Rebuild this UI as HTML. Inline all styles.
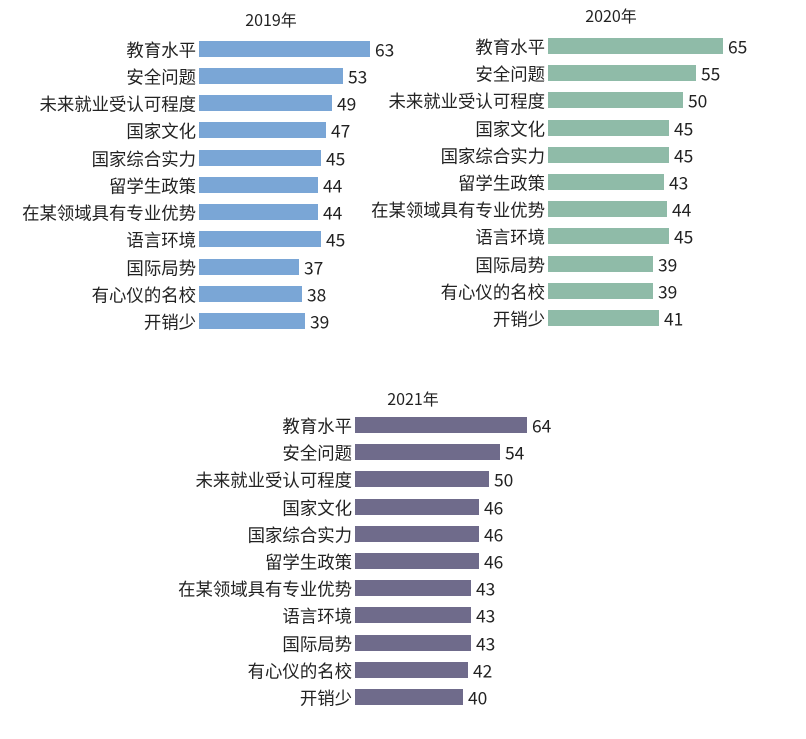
<!DOCTYPE html>
<html><head><meta charset="utf-8"><style>
body{margin:0;background:#fff;}
svg text{font-family:"Noto Sans CJK SC","Liberation Sans",sans-serif;font-size:17.4px;fill:#222;}
.l{text-anchor:end}
.t{text-anchor:middle;font-size:16px}
</style></head><body>
<svg width="806" height="734" viewBox="0 0 806 734" xmlns="http://www.w3.org/2000/svg">
<g fill="#7aa6d6">
<rect x="199" y="41" width="171" height="16"/><rect x="199" y="68" width="144" height="16"/><rect x="199" y="95" width="133" height="16"/><rect x="199" y="122" width="127" height="16"/><rect x="199" y="150" width="122" height="16"/><rect x="199" y="177" width="119" height="16"/><rect x="199" y="204" width="119" height="16"/><rect x="199" y="231" width="122" height="16"/><rect x="199" y="259" width="100" height="16"/><rect x="199" y="286" width="103" height="16"/><rect x="199" y="313" width="106" height="16"/>
</g>
<text class="t" x="271" y="26">2019年</text>
<g transform="translate(0,1.5)">
<text class="l" x="196" y="55">教育水平</text><text class="l" x="196" y="82">安全问题</text><text class="l" x="196" y="109">未来就业受认可程度</text><text class="l" x="196" y="136">国家文化</text><text class="l" x="196" y="164">国家综合实力</text><text class="l" x="196" y="191">留学生政策</text><text class="l" x="196" y="218">在某领域具有专业优势</text><text class="l" x="196" y="245">语言环境</text><text class="l" x="196" y="273">国际局势</text><text class="l" x="196" y="300">有心仪的名校</text><text class="l" x="196" y="327">开销少</text>
<text x="375" y="55">63</text><text x="348" y="82">53</text><text x="337" y="109">49</text><text x="331" y="136">47</text><text x="326" y="164">45</text><text x="323" y="191">44</text><text x="323" y="218">44</text><text x="326" y="245">45</text><text x="304" y="273">37</text><text x="307" y="300">38</text><text x="310" y="327">39</text>
</g>

<g fill="#8fbba8">
<rect x="548" y="38" width="175" height="16"/><rect x="548" y="65" width="148" height="16"/><rect x="548" y="92" width="135" height="16"/><rect x="548" y="120" width="121" height="16"/><rect x="548" y="147" width="121" height="16"/><rect x="548" y="174" width="116" height="16"/><rect x="548" y="201" width="119" height="16"/><rect x="548" y="228" width="121" height="16"/><rect x="548" y="256" width="105" height="16"/><rect x="548" y="283" width="105" height="16"/><rect x="548" y="310" width="111" height="16"/>
</g>
<text class="t" x="611" y="22">2020年</text>
<g transform="translate(0,1.5)">
<text class="l" x="545" y="52">教育水平</text><text class="l" x="545" y="79">安全问题</text><text class="l" x="545" y="106">未来就业受认可程度</text><text class="l" x="545" y="134">国家文化</text><text class="l" x="545" y="161">国家综合实力</text><text class="l" x="545" y="188">留学生政策</text><text class="l" x="545" y="215">在某领域具有专业优势</text><text class="l" x="545" y="242">语言环境</text><text class="l" x="545" y="270">国际局势</text><text class="l" x="545" y="297">有心仪的名校</text><text class="l" x="545" y="324">开销少</text>
<text x="728" y="52">65</text><text x="701" y="79">55</text><text x="688" y="106">50</text><text x="674" y="134">45</text><text x="674" y="161">45</text><text x="669" y="188">43</text><text x="672" y="215">44</text><text x="674" y="242">45</text><text x="658" y="270">39</text><text x="658" y="297">39</text><text x="664" y="324">41</text>
</g>

<g fill="#6f6b8b">
<rect x="355" y="417" width="172" height="16"/><rect x="355" y="444" width="145" height="16"/><rect x="355" y="471" width="134" height="16"/><rect x="355" y="499" width="124" height="16"/><rect x="355" y="526" width="124" height="16"/><rect x="355" y="553" width="124" height="16"/><rect x="355" y="580" width="116" height="16"/><rect x="355" y="607" width="116" height="16"/><rect x="355" y="635" width="116" height="16"/><rect x="355" y="662" width="113" height="16"/><rect x="355" y="689" width="108" height="16"/>
</g>
<text class="t" x="413" y="405">2021年</text>
<g transform="translate(0,1.5)">
<text class="l" x="352" y="431">教育水平</text><text class="l" x="352" y="458">安全问题</text><text class="l" x="352" y="485">未来就业受认可程度</text><text class="l" x="352" y="513">国家文化</text><text class="l" x="352" y="540">国家综合实力</text><text class="l" x="352" y="567">留学生政策</text><text class="l" x="352" y="594">在某领域具有专业优势</text><text class="l" x="352" y="621">语言环境</text><text class="l" x="352" y="649">国际局势</text><text class="l" x="352" y="676">有心仪的名校</text><text class="l" x="352" y="703">开销少</text>
<text x="532" y="431">64</text><text x="505" y="458">54</text><text x="494" y="485">50</text><text x="484" y="513">46</text><text x="484" y="540">46</text><text x="484" y="567">46</text><text x="476" y="594">43</text><text x="476" y="621">43</text><text x="476" y="649">43</text><text x="473" y="676">42</text><text x="468" y="703">40</text>
</g>
</svg>
</body></html>
